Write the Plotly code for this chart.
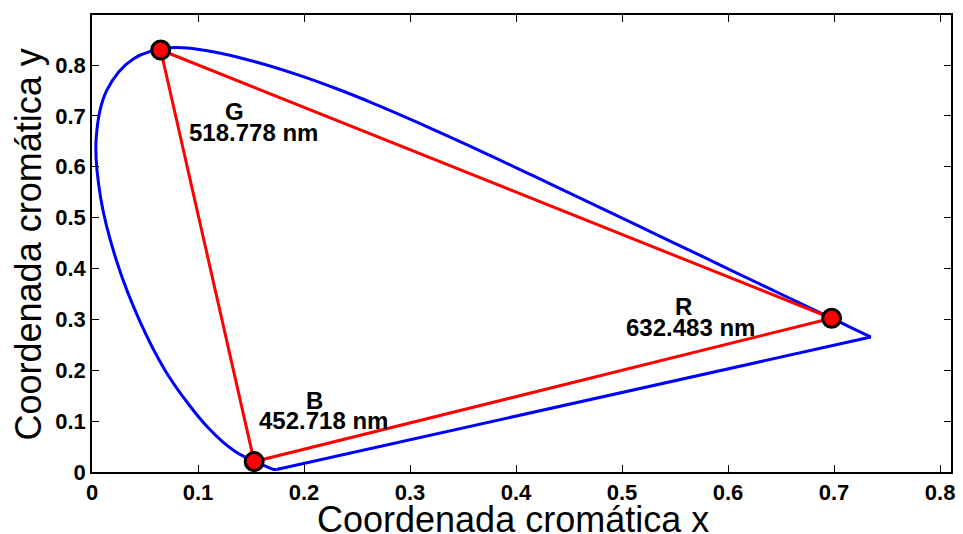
import plotly.graph_objects as go

# CIE 1931 spectral locus (380-700 nm, 5 nm steps)
locus_nm = list(range(380, 705, 5))
locus_x = [0.1741, 0.1740, 0.1738, 0.1736, 0.1733, 0.1730, 0.1726, 0.1721, 0.1714, 0.1703,
           0.1689, 0.1669, 0.1644, 0.1611, 0.1566, 0.1510, 0.1440, 0.1355, 0.1241, 0.1096,
           0.0913, 0.0687, 0.0454, 0.0235, 0.0082, 0.0039, 0.0139, 0.0389, 0.0743, 0.1142,
           0.1547, 0.1929, 0.2296, 0.2658, 0.3016, 0.3373, 0.3731, 0.4087, 0.4441, 0.4788,
           0.5125, 0.5448, 0.5752, 0.6029, 0.6270, 0.6482, 0.6658, 0.6801, 0.6915, 0.7006,
           0.7079, 0.7140, 0.7190, 0.7230, 0.7260, 0.7283, 0.7300, 0.7311, 0.7320, 0.7327,
           0.7334, 0.7340, 0.7344, 0.7346, 0.7347]
locus_y = [0.0050, 0.0050, 0.0049, 0.0049, 0.0048, 0.0048, 0.0048, 0.0048, 0.0051, 0.0058,
           0.0069, 0.0086, 0.0109, 0.0138, 0.0177, 0.0227, 0.0297, 0.0399, 0.0578, 0.0868,
           0.1327, 0.2007, 0.2950, 0.4127, 0.5384, 0.6548, 0.7502, 0.8120, 0.8338, 0.8262,
           0.8059, 0.7816, 0.7543, 0.7243, 0.6923, 0.6589, 0.6245, 0.5896, 0.5547, 0.5202,
           0.4866, 0.4544, 0.4242, 0.3965, 0.3725, 0.3514, 0.3340, 0.3197, 0.3083, 0.2993,
           0.2920, 0.2859, 0.2809, 0.2770, 0.2740, 0.2717, 0.2700, 0.2689, 0.2680, 0.2673,
           0.2666, 0.2660, 0.2656, 0.2654, 0.2653]

# Primaries
prim_names = ["R", "G", "B"]
prim_nm = ["632.483 nm", "518.778 nm", "452.718 nm"]
prim_x = [0.6977, 0.0648, 0.1530]
prim_y = [0.3022, 0.8295, 0.0205]

# label positions (letter and wavelength)
lab_letter_x = [0.5575, 0.1343, 0.2103]
lab_letter_y = [0.3260, 0.7096, 0.1415]
lab_nm_x = [0.5650, 0.1521, 0.2188]
lab_nm_y = [0.2850, 0.6683, 0.1010]

tick_vals = [0, 0.1, 0.2, 0.3, 0.4, 0.5, 0.6, 0.7, 0.8]
tick_text = ["0", "0.1", "0.2", "0.3", "0.4", "0.5", "0.6", "0.7", "0.8"]

fig = go.Figure()

# spectral locus
fig.add_trace(go.Scatter(x=locus_x, y=locus_y, mode="lines",
                         line=dict(color="#0000ff", width=3, shape="spline", smoothing=1),
                         hoverinfo="skip"))
# purple line (closing)
fig.add_trace(go.Scatter(x=[locus_x[-1], locus_x[0]], y=[locus_y[-1], locus_y[0]], mode="lines",
                         line=dict(color="#0000ff", width=3), hoverinfo="skip"))

# triangle G -> R -> B -> G
tx = [prim_x[1], prim_x[0], prim_x[2], prim_x[1]]
ty = [prim_y[1], prim_y[0], prim_y[2], prim_y[1]]
fig.add_trace(go.Scatter(x=tx, y=ty, mode="lines",
                         line=dict(color="#ff0000", width=3), hoverinfo="skip"))

fig.add_trace(go.Scatter(x=prim_x, y=prim_y, mode="markers",
                         marker=dict(size=18, color="#ff0000",
                                     line=dict(color="black", width=3))))

lab_font = dict(family="Liberation Sans", size=24, color="black", weight="bold")
for i in range(3):
    fig.add_annotation(x=lab_letter_x[i], y=lab_letter_y[i], text=prim_names[i],
                       showarrow=False, font=lab_font, xanchor="center", yanchor="middle")
    fig.add_annotation(x=lab_nm_x[i], y=lab_nm_y[i], text=prim_nm[i],
                       showarrow=False, font=lab_font, xanchor="center", yanchor="middle")

title_font = dict(family="Liberation Sans", size=36, color="black")
fig.add_annotation(x=0.5, y=0, xref="paper", yref="paper", yshift=-47, xshift=-9,
                   text="Coordenada cromática x", showarrow=False, font=title_font,
                   xanchor="center", yanchor="middle")
fig.add_annotation(x=0, y=0.5, xref="paper", yref="paper", xshift=-64, yshift=-1,
                   text="Coordenada cromática y", showarrow=False, font=title_font,
                   textangle=-90, xanchor="center", yanchor="middle")

axis_common = dict(showgrid=False, zeroline=False, showline=True, linecolor="black",
                   linewidth=1.5, mirror="ticks", ticks="inside", ticklen=7,
                   tickcolor="black", tickwidth=1, tickvals=tick_vals, ticktext=tick_text,
                   tickfont=dict(family="Liberation Sans", size=22, color="black",
                                 weight="bold"))

fig.update_layout(
    width=963, height=534,
    margin=dict(l=92, r=8, t=15, b=62),
    paper_bgcolor="white", plot_bgcolor="white",
    showlegend=False,
    xaxis=dict(range=[0, 0.8103], **axis_common),
    yaxis=dict(range=[0, 0.8983], **axis_common),
)

fig.write_html("out.html")
